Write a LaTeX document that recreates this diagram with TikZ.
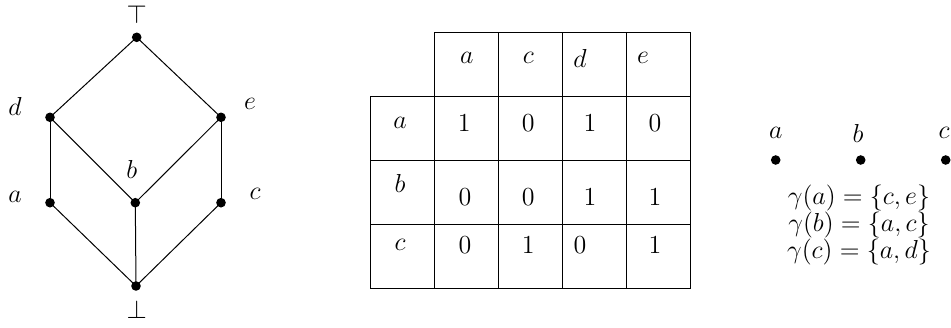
\documentclass[tikz,border=0pt]{standalone}
\begin{document}
\begin{tikzpicture}[x=0.5pt,y=-0.5pt,
  lbl/.style={font=\fontsize{12}{14.5}\selectfont, inner sep=0pt, scale=1.083},
  dot/.style={circle, fill=black, minimum size=4.8pt, inner sep=0pt},
  edge/.style={line width=0.5pt},
  grid/.style={line width=0.5pt}]
\useasboundingbox (0,0) rectangle (951,327);
% lattice
\node[dot] (top) at (136.7,37.3) {};
\node[dot] (d) at (50,117.3) {};
\node[dot] (e) at (221,117.3) {};
\node[dot] (a) at (50,202.7) {};
\node[dot] (b) at (135.3,202.7) {};
\node[dot] (c) at (221,202.7) {};
\node[dot] (bot) at (136,286) {};
\draw[edge] (top.center) -- (d.center);
\draw[edge] (top.center) -- (e.center);
\draw[edge] (d.center) -- (a.center);
\draw[edge] (d.center) -- (b.center);
\draw[edge] (e.center) -- (b.center);
\draw[edge] (e.center) -- (c.center);
\draw[edge] (a.center) -- (bot.center);
\draw[edge] (b.center) -- (bot.center);
\draw[edge] (c.center) -- (bot.center);
\node[lbl] (ltop) at (136.7,14) {$\top$};
\node[lbl] (lbot) at (136.7,309) {$\bot$};
\node[lbl] (ld) at (15,106) {$d$};
\node[lbl] (le) at (250,104) {$e$};
\node[lbl] (lb) at (131.7,169) {$b$};
\node[lbl] (la) at (15,197) {$a$};
\node[lbl] (lc) at (255,194) {$c$};
% table
\draw[grid] (434.3,32.3) rectangle (690,96.7);
\draw[grid] (370,96.7) rectangle (690,288.3);
\draw[grid] (434.3,96.7) -- (434.3,288.3);
\foreach \x in {498.3,562.3,626.3} \draw[grid] (\x,32.3) -- (\x,288.3);
\foreach \y in {160.7,224.3} \draw[grid] (370,\y) -- (690,\y);
\node[lbl] (ha) at (466.7,58) {$a$};
\node[lbl] (hc) at (528.3,58) {$c$};
\node[lbl] (hd) at (580,58) {$d$};
\node[lbl] (he) at (643,58) {$e$};
\node[lbl] (ra) at (400,123) {$a$};
\node[lbl] (rb) at (400,183) {$b$};
\node[lbl] (rc) at (400,245) {$c$};
\node[lbl] (m11) at (464.3,123) {$1$};
\node[lbl] (m12) at (528.3,123) {$0$};
\node[lbl] (m13) at (590,123) {$1$};
\node[lbl] (m14) at (655,123) {$0$};
\node[lbl] (m21) at (465,197) {$0$};
\node[lbl] (m22) at (528.3,197) {$0$};
\node[lbl] (m23) at (590,197) {$1$};
\node[lbl] (m24) at (655,197) {$1$};
\node[lbl] (m31) at (465,245) {$0$};
\node[lbl] (m32) at (528.3,245) {$1$};
\node[lbl] (m33) at (580,245) {$0$};
\node[lbl] (m34) at (655,245) {$1$};
% right part
\node[dot] (pa) at (775.7,160) {};
\node[dot] (pb) at (860.7,160) {};
\node[dot] (pc) at (945.7,160) {};
\node[lbl] (lpa) at (775.7,133) {$a$};
\node[lbl] (lpb) at (858,133) {$b$};
\node[lbl] (lpc) at (944,133) {$c$};
\node[lbl] (g1) at (859,198) {$\gamma(a)=\{c,e\}$};
\node[lbl] (g2) at (859,225) {$\gamma(b)=\{a,c\}$};
\node[lbl] (g3) at (859,252) {$\gamma(c)=\{a,d\}$};
\end{tikzpicture}
\end{document}
